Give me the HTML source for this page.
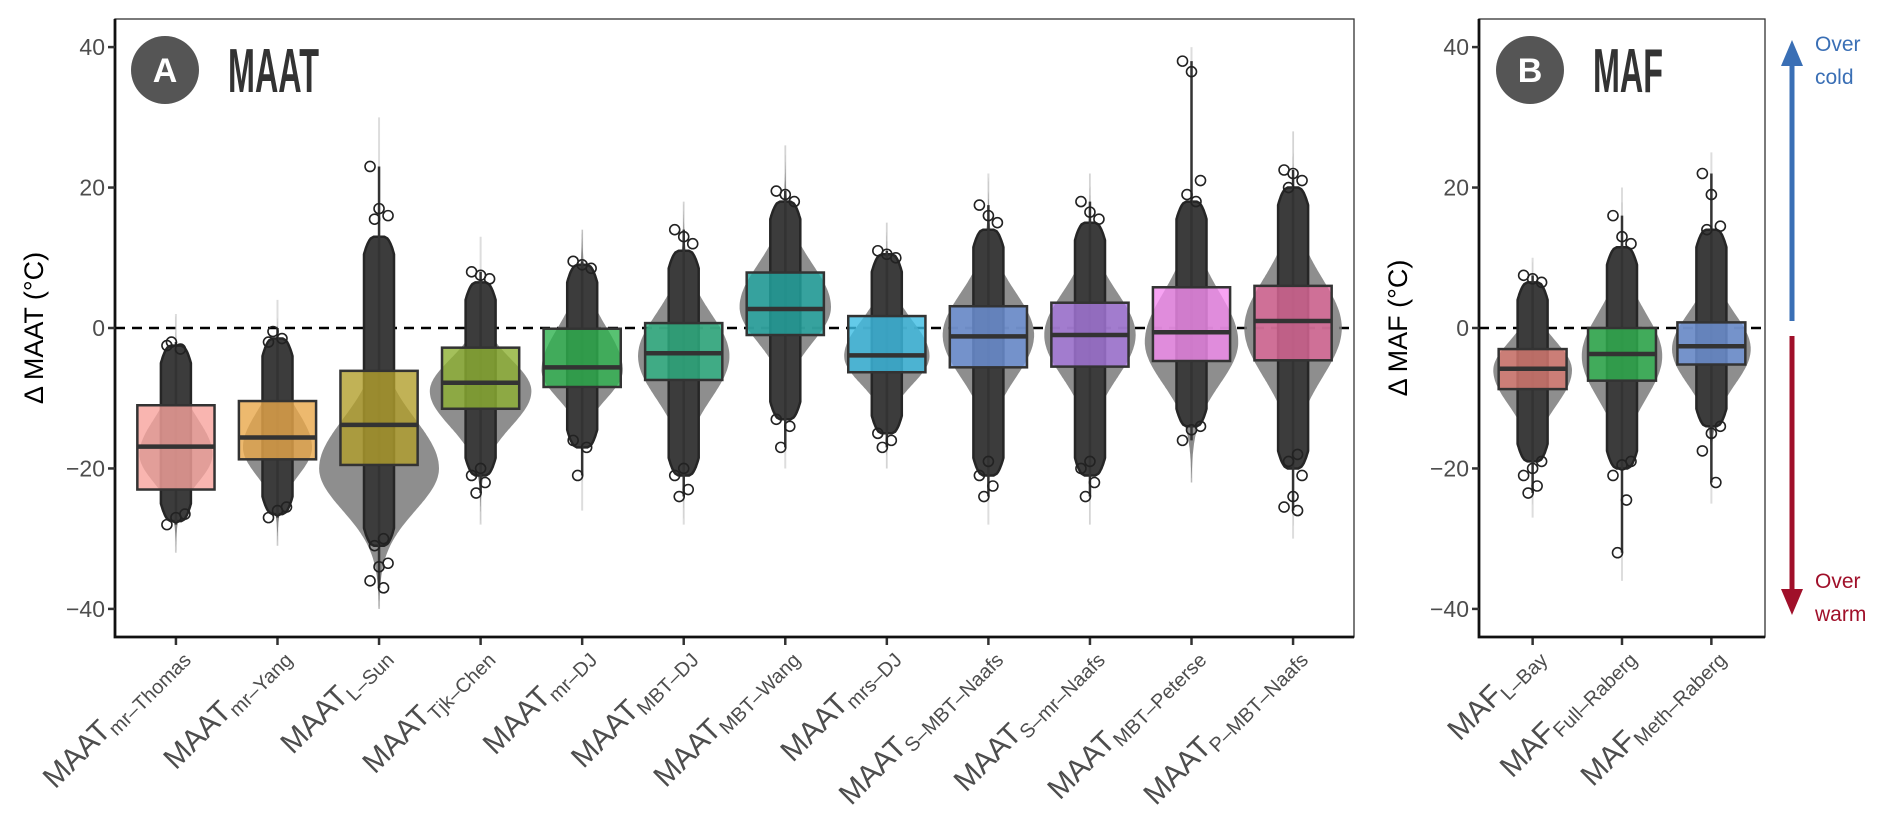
<!DOCTYPE html>
<html><head><meta charset="utf-8"><style>
html,body{margin:0;padding:0;background:#fff;}
svg{display:block;font-family:"Liberation Sans",sans-serif;}
</style></head><body>
<svg id="chart" width="1892" height="839" viewBox="0 0 1892 839" xmlns="http://www.w3.org/2000/svg"></svg>
<script>
// ---- Panel A data ----
const catsA = ["mr–Thomas","mr–Yang","L–Sun","Tjk–Chen","mr–DJ","MBT–DJ","MBT–Wang","mrs–DJ","S–MBT–Naafs","S–mr–Naafs","MBT–Peterse","P–MBT–Naafs"];
const q3A  = [-11.0,-10.4,-6.1,-2.8,-0.1,0.7,7.9,1.7,3.1,3.6,5.8,6.0];
const medA = [-16.9,-15.6,-13.8,-7.8,-5.6,-3.6,2.7,-3.9,-1.2,-1.0,-0.6,1.0];
const q1A  = [-23.0,-18.7,-19.5,-11.5,-8.4,-7.4,-1.0,-6.3,-5.6,-5.5,-4.7,-4.6];
const ptMinA = [-28,-27,-37,-23.5,-21,-24,-17,-17,-24,-24,-16,-26];
const ptMaxA = [-2,0,23,8,9.5,14,19.5,11,17.5,18,38,22.5];
const vPeakA = [-18,-17,-20,-9,-6,-4,3,-4,-1,-1,-2,0];
const vHalfA = [0.36,0.34,0.59,0.5,0.4,0.45,0.45,0.42,0.45,0.45,0.46,0.48];
const sdUpA = [5,5,7,4.5,6,6,6,5,6,6,7,7];
const sdDnA = [4,4,6,5,4,6,5,4,6,6,6,7];
const tailLoA = [-32,-31,-40,-28,-26,-28,-20,-20,-28,-28,-22,-30];
const tailHiA = [2,4,30,13,14,18,26,15,22,22,40,28];
const denseLoA = [-27.5,-26.5,-31,-21,-17,-21,-13,-15,-21,-21,-14,-20];
const denseHiA = [-2.5,-1.5,13,6.5,9,11,18,10.5,14,15,18,20];
const outA = [[-28,-27,-26.5,-2,-3,-2.5],[-27,-26,-25.5,-0.5,-1.5,-2],[23,17,16,15.5,-37,-36,-34,-33.5,-31,-30],[8,7.5,7,-23.5,-22,-21,-20],[9.5,9,8.5,-21,-17,-16],[14,13,12,-24,-23,-21,-20],[19.5,19,18,-17,-14,-13],[11,10.5,10,-17,-16,-15],[17.5,16,15,-24,-22.5,-21,-19],[18,16.5,15.5,-24,-22,-20,-19],[38,36.5,21,19,18,-16,-14.5,-14],[22.5,22,21,20,-26,-25.5,-24,-21,-19,-18]];
const colA = ["#f7a29c","#e9a84a","#b19f2c","#8db032","#2eb34f","#2db383","#21a7a3","#3cbde3","#6e93db","#a878df","#f58cf0","#e0699a"];
// ---- Panel B data ----
const catsB = ["L–Bay","Full–Raberg","Meth–Raberg"];
const q3B = [-3.0,0.0,0.8];
const medB = [-5.8,-3.7,-2.6];
const q1B = [-8.7,-7.5,-5.2];
const ptMinB = [-23.5,-32,-22];
const ptMaxB = [7.5,16,22];
const vPeakB = [-6,-4,-3];
const vHalfB = [0.44,0.45,0.44];
const sdUpB = [4,6,5];
const sdDnB = [5,6,5];
const tailLoB = [-27,-36,-25];
const tailHiB = [10,20,25];
const denseLoB = [-19,-20,-14];
const denseHiB = [6.5,11.5,14];
const outB = [[7.5,7,6.5,-23.5,-22.5,-21,-20,-19],[16,13,12,-32,-24.5,-21,-19.5,-19],[22,19,14.5,14,-22,-17.5,-15,-14]];
const colB = ["#db7a72","#2eb34f","#6f95db"];
const yTicks = [-40,-20,0,20,40];

const NS="http://www.w3.org/2000/svg";
const svg=document.getElementById('chart');
function el(tag,attrs,parent){const e=document.createElementNS(NS,tag);for(const k in attrs)e.setAttribute(k,attrs[k]);(parent||svg).appendChild(e);return e;}
const yTop=19,yBot=637;
function yS(v){return yTop+(44-v)*(yBot-yTop)/88;}

function panel(opt){
  const {x0,x1,cats,q1,med,q3,ptMin,ptMax,vPeak,vHalf,sdUp,sdDn,tailLo,tailHi,denseLo,denseHi,outs,cols,prefix,name}=opt;
  const g=el('g',{});
  
  
  const sp=(x1-x0)/(cats.length+0.2);
  const xS=i=>x0+sp*(0.6+i);
  const zl=el('line',{x1:x0,x2:x1,y1:yS(0),y2:yS(0),stroke:'#000','stroke-width':2.5,'stroke-dasharray':'10 7'},g);
  
  
  cats.forEach((c,i)=>{
    const cx=xS(i);
    const cg=el('g',{},g);
    
    
    const wv=v=>{const sd=v>vPeak[i]?sdUp[i]:sdDn[i];return vHalf[i]*sp*Math.exp(-0.5*Math.pow((v-vPeak[i])/sd,2));};
    const tl=el('line',{x1:cx,x2:cx,y1:yS(tailHi[i]),y2:yS(tailLo[i]),stroke:'#c8c8c8','stroke-width':2,opacity:0.6},cg);
    
    
    let L=[],R=[];
    for(let v=tailLo[i];v<=tailHi[i];v+=0.25){const w=wv(v);R.push([cx+w,yS(v)]);L.push([cx-w,yS(v)]);}
    const d='M'+R.map(p=>p[0].toFixed(1)+','+p[1].toFixed(1)).join('L')+'L'+L.reverse().map(p=>p[0].toFixed(1)+','+p[1].toFixed(1)).join('L')+'Z';
    const vp=el('path',{d:d,fill:'#7a7a7a',opacity:0.85},cg);
    
    
    let BL=[],BR=[];
    for(let v=denseLo[i];v<=denseHi[i]+0.001;v+=0.25){
      const e=Math.min(1,(v-denseLo[i])/2.5,(denseHi[i]-v)/2.5);
      const w=15*(0.35+0.65*Math.sqrt(Math.max(0,e)));
      BR.push([cx+w,yS(v)]);BL.push([cx-w,yS(v)]);}
    const bd='M'+BR.map(p=>p[0].toFixed(1)+','+p[1].toFixed(1)).join('L')+'L'+BL.reverse().map(p=>p[0].toFixed(1)+','+p[1].toFixed(1)).join('L')+'Z';
    const bp=el('path',{d:bd,fill:'#3c3c3c',stroke:'#262626','stroke-width':2.5,'stroke-linejoin':'round'},cg);
    
    
    const wl=el('line',{x1:cx,x2:cx,y1:yS(ptMax[i]),y2:yS(ptMin[i]),stroke:'#333','stroke-width':2.5},cg);
    
    
    outs[i].forEach((v,k)=>{
      const off=((k*7)%5-2)*4.5;
      const ci=el('circle',{cx:cx+off,cy:yS(v),r:5,fill:'none',stroke:'#222','stroke-width':1.6},cg);
      
      
    });
    const bw=0.76*sp;
    const bx=el('rect',{x:cx-bw/2,y:yS(q3[i]),width:bw,height:yS(q1[i])-yS(q3[i]),fill:cols[i],'fill-opacity':0.8,stroke:'#333','stroke-width':2.5},cg);
    
    
    const ml=el('line',{x1:cx-bw/2,x2:cx+bw/2,y1:yS(med[i]),y2:yS(med[i]),stroke:'#333','stroke-width':4.5},cg);
    
    
    const tk=el('line',{x1:cx,x2:cx,y1:yBot,y2:yBot+8,stroke:'#333','stroke-width':2.5},g);
    
    
    const lx=cx+12,ly=yBot+20;
    const t=el('text',{x:lx,y:ly,'text-anchor':'end',transform:`rotate(-45 ${lx} ${ly})`,fill:'#4d4d4d','font-size':30},g);
    
    
    const t1=el('tspan',{},t);t1.textContent=prefix;
    const t2=el('tspan',{'font-size':20,dy:6},t);t2.textContent=c;
  });
  const fr=el('rect',{x:x0,y:yTop,width:x1-x0,height:yBot-yTop,fill:'none',stroke:'#333','stroke-width':1.3},g);
  
  
  const ax=el('path',{d:`M${x0},${yTop}V${yBot}H${x1}`,fill:'none',stroke:'#111','stroke-width':2.8},g);
  
  
  yTicks.forEach(v=>{
    const l=el('line',{x1:x0-7,x2:x0,y1:yS(v),y2:yS(v),stroke:'#333','stroke-width':2.5},g);
    
    
    const tt=el('text',{x:x0-10,y:yS(v)+8,'text-anchor':'end',fill:'#4d4d4d','font-size':23},g);
    
    
    tt.textContent=(v<0?'−':'')+Math.abs(v);
  });
}
panel({x0:115,x1:1354,cats:catsA,q1:q1A,med:medA,q3:q3A,ptMin:ptMinA,ptMax:ptMaxA,vPeak:vPeakA,vHalf:vHalfA,sdUp:sdUpA,sdDn:sdDnA,tailLo:tailLoA,tailHi:tailHiA,denseLo:denseLoA,denseHi:denseHiA,outs:outA,cols:colA,prefix:'MAAT',name:'maat'});
panel({x0:1479,x1:1765,cats:catsB,q1:q1B,med:medB,q3:q3B,ptMin:ptMinB,ptMax:ptMaxB,vPeak:vPeakB,vHalf:vHalfB,sdUp:sdUpB,sdDn:sdDnB,tailLo:tailLoB,tailHi:tailHiB,denseLo:denseLoB,denseHi:denseHiB,outs:outB,cols:colB,prefix:'MAF',name:'maf'});
</script>
<svg width="1892" height="839" style="position:absolute;left:0;top:0;pointer-events:none" xmlns="http://www.w3.org/2000/svg">
  <g font-family="Liberation Sans, sans-serif">
    <text x="0" y="0" transform="translate(43 328) rotate(-90)" text-anchor="middle" font-size="27" fill="#000">Δ MAAT (°C)</text>
    <text x="0" y="0" transform="translate(1407 328) rotate(-90)" text-anchor="middle" font-size="27" fill="#000">Δ MAF (°C)</text>
    <circle cx="165" cy="70" r="34" fill="#555"/>
    <text x="165" y="82" text-anchor="middle" font-size="34" font-weight="bold" fill="#fff">A</text>
    <text x="228" y="92" font-family="Liberation Sans Narrow, Liberation Sans, sans-serif" font-size="62" font-weight="bold" fill="#333" textLength="91" lengthAdjust="spacingAndGlyphs">MAAT</text>
    <circle cx="1530" cy="70" r="34" fill="#555"/>
    <text x="1530" y="82" text-anchor="middle" font-size="34" font-weight="bold" fill="#fff">B</text>
    <text x="1593" y="92" font-family="Liberation Sans Narrow, Liberation Sans, sans-serif" font-size="62" font-weight="bold" fill="#333" textLength="70" lengthAdjust="spacingAndGlyphs">MAF</text>
    <line x1="1792" y1="321" x2="1792" y2="60" stroke="#3a6fb5" stroke-width="5"/>
    <polygon points="1792,40 1781,66 1803,66" fill="#3a6fb5"/>
    <text x="1815" y="51" font-size="21" fill="#3a6fb5">Over</text>
    <text x="1815" y="84" font-size="21" fill="#3a6fb5">cold</text>
    <line x1="1792" y1="336" x2="1792" y2="595" stroke="#a0102a" stroke-width="5"/>
    <polygon points="1792,615 1781,589 1803,589" fill="#a0102a"/>
    <text x="1815" y="588" font-size="21" fill="#a0102a">Over</text>
    <text x="1815" y="621" font-size="21" fill="#a0102a">warm</text>
  </g>
</svg>
</body></html>
